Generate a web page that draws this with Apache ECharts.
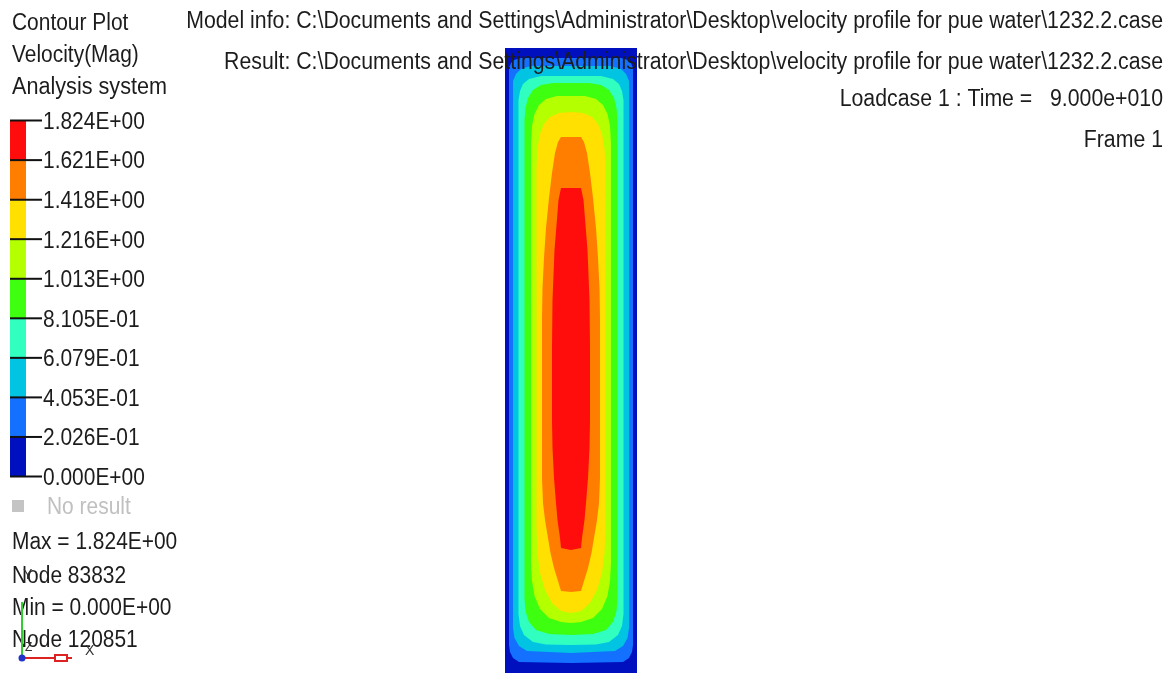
<!DOCTYPE html>
<html>
<head>
<meta charset="utf-8">
<script src="https://cdn.jsdelivr.net/npm/echarts@6/dist/echarts.min.js"></script>
<style>
html,body{margin:0;padding:0;background:#ffffff;}
#chart{width:1174px;height:673px;}
</style>
</head>
<body>
<div id="chart"></div>
<script>
// ---- legend / colour scale ----
const bandColors = ['#0010BE', '#1470FF', '#00C4E2', '#30FFC0', '#3EFF10', '#B4FF00', '#FFE000', '#FF7E00', '#FF0C0C'];
const legendValues = [0, 0.2026, 0.4053, 0.6079, 0.8105, 1.013, 1.216, 1.418, 1.621, 1.824];
const legendLabels = ['0.000E+00', '2.026E-01', '4.053E-01', '6.079E-01', '8.105E-01', '1.013E+00', '1.216E+00', '1.418E+00', '1.621E+00', '1.824E+00'];

// ---- contour regions (velocity >= level), right half outline [half-width mm, depth mm] ----
const outline0 = [[0, 0], [66, 0], [66, 625], [0, 625]];
const outline1 = [[0, 10], [50, 10], [57, 12], [60, 15], [62, 20], [62, 597], [61, 604], [58, 610], [52, 614], [0, 615]];
const outline2 = [[0, 18], [40, 18], [50, 21], [55, 26], [58, 33], [58, 580], [56.5, 590], [52, 598], [44, 603], [0, 605]];
const outline3 = [[0, 28], [30, 28], [42, 31], [48, 36], [51, 43], [52.5, 52], [52.5, 566], [51, 578], [47, 587], [38, 594], [25, 596.5], [0, 597]];
const outline4 = [[0, 35], [18, 35], [30, 37], [38, 42], [43, 50], [45.5, 60], [46.5, 72], [46.5, 550], [45.5, 563], [42, 574], [35, 582], [22, 586], [0, 587]];
const outline5 = [[0, 48], [14, 48], [25, 51], [32, 57], [36.5, 66], [39, 78], [40, 95], [40, 515], [39, 533], [36.5, 548], [31, 561], [22, 570], [10, 574], [0, 575]];
const outline6 = [[0, 64], [12, 65], [21, 69], [27, 76], [31, 86], [33.5, 100], [34.5, 120], [34.5, 480], [33.5, 505], [31, 525], [26, 542], [19, 555], [10, 563], [0, 565]];
const outline7 = [[0, 89], [10, 89], [13, 94], [16, 105], [19, 125], [22, 150], [25, 180], [27, 210], [28.5, 240], [29, 270], [29, 430], [28, 455], [26, 472], [23, 490], [20.5, 505], [17, 520], [13, 533], [10, 543], [0, 544]];
const outline8 = [[0, 140], [10, 140], [12.5, 152], [14.5, 177], [16.5, 202], [18.5, 252], [19, 300], [19, 372], [18.5, 400], [17, 430], [15, 455], [13.5, 472], [11, 490], [10, 500], [0, 502]];
const outlines = [outline0, outline1, outline2, outline3, outline4, outline5, outline6, outline7, outline8];

// ---- texts ----
const headerLines = [
  'Model info: C:\\Documents and Settings\\Administrator\\Desktop\\velocity profile for pue water\\1232.2.case',
  'Result: C:\\Documents and Settings\\Administrator\\Desktop\\velocity profile for pue water\\1232.2.case',
  'Loadcase 1 : Time =   9.000e+010',
  'Frame 1'
];
const titleLines = ['Contour Plot', 'Velocity(Mag)', 'Analysis system'];
const infoLines = ['Max = 1.824E+00', 'Node 83832', 'Min = 0.000E+00', 'Node 120851'];

const FONT = '23px "Liberation Sans", Arial, sans-serif';
const SX = 0.91;
const SX_HEAD = 0.925;
const TXT = '#1c1c1c';

const chart = echarts.init(document.getElementById('chart'), null, {renderer: 'canvas'});

function txt(text, x, y, align, fill, sx) {
  return {type: 'text', x: x, y: y, scaleX: sx || SX, z: 100,
    style: {text: text, font: FONT, fill: fill || TXT, align: align, verticalAlign: 'middle'}};
}

const headerY = [22, 63, 100, 141];
const titleY = [24, 56, 88];
const infoY = [543, 577, 609, 641];

const graphics = [];
headerLines.forEach((t, i) => graphics.push(txt(t, 1163, headerY[i], 'right', TXT, SX_HEAD)));
titleLines.forEach((t, i) => graphics.push(txt(t, 12, titleY[i], 'left', TXT, i === 2 ? 0.94 : SX)));
infoLines.forEach((t, i) => graphics.push(txt(t, 12, infoY[i], 'left')));
graphics.push({type: 'rect', z: 100, shape: {x: 12, y: 500, width: 12, height: 12}, style: {fill: '#c4c4c4'}});
graphics.push(txt('No result', 47, 508, 'left', '#c0c0c0'));
// axis triad
graphics.push({type: 'line', z: 101, shape: {x1: 22, y1: 602, x2: 22, y2: 658}, style: {stroke: '#33cc33', lineWidth: 2}});
graphics.push({type: 'line', z: 101, shape: {x1: 22, y1: 658, x2: 72, y2: 658}, style: {stroke: '#dd2222', lineWidth: 2}});
graphics.push({type: 'rect', z: 101, shape: {x: 55, y: 655, width: 12, height: 6}, style: {fill: '#ffffff', stroke: '#dd2222', lineWidth: 2}});
graphics.push({type: 'circle', z: 102, shape: {cx: 22, cy: 658, r: 3.5}, style: {fill: '#2233cc'}});
graphics.push({type: 'text', z: 102, x: 23, y: 575, style: {text: 'Y', font: '14px "Liberation Sans", sans-serif', fill: '#333', align: 'left', verticalAlign: 'middle'}});
graphics.push({type: 'text', z: 102, x: 25, y: 648, style: {text: 'Z', font: '12px "Liberation Sans", sans-serif', fill: '#333', align: 'left', verticalAlign: 'middle'}});
graphics.push({type: 'text', z: 102, x: 85, y: 651, style: {text: 'X', font: '14px "Liberation Sans", sans-serif', fill: '#333', align: 'left', verticalAlign: 'middle'}});

const option = {
  animation: false,
  backgroundColor: '#ffffff',
  grid: [
    {left: 505, top: 48, width: 132, height: 625, containLabel: false},
    {left: 10, top: 120.5, width: 16, height: 356, containLabel: false}
  ],
  xAxis: [
    {type: 'value', gridIndex: 0, min: -66, max: 66, show: false},
    {type: 'value', gridIndex: 1, min: 0, max: 1, show: false}
  ],
  yAxis: [
    {type: 'value', gridIndex: 0, min: 0, max: 625, inverse: true, show: false},
    {type: 'value', gridIndex: 1, min: 0, max: 1.824, show: false}
  ],
  series: [
    {
      type: 'custom', xAxisIndex: 0, yAxisIndex: 0, clip: false,
      data: outlines.map(o => [0, o[0][1]]),
      renderItem: function (params, api) {
        const o = outlines[params.dataIndex];
        const right = o.map(p => api.coord([p[0], p[1]]));
        const left = o.slice().reverse().map(p => api.coord([-p[0], p[1]]));
        return {type: 'polygon', z2: params.dataIndex,
          shape: {points: right.concat(left)},
          style: {fill: bandColors[params.dataIndex]}};
      }
    },
    {
      type: 'custom', xAxisIndex: 1, yAxisIndex: 1, clip: false,
      data: legendValues.map(v => [0, v]),
      renderItem: function (params, api) {
        const i = params.dataIndex;
        const p = api.coord([0, legendValues[i]]);
        const children = [];
        if (i < legendValues.length - 1) {
          const p2 = api.coord([1, legendValues[i + 1]]);
          children.push({type: 'rect', shape: {x: p[0], y: p2[1], width: p2[0] - p[0], height: p[1] - p2[1]},
            style: {fill: bandColors[i]}});
        }
        children.push({type: 'line', z2: 10, shape: {x1: p[0], y1: p[1], x2: p[0] + 32, y2: p[1]},
          style: {stroke: '#111111', lineWidth: 2}});
        children.push({type: 'text', z2: 10, x: p[0] + 33, y: p[1] + 2, scaleX: SX,
          style: {text: legendLabels[i], font: FONT, fill: TXT, align: 'left', verticalAlign: 'middle'}});
        return {type: 'group', children: children};
      }
    }
  ],
  graphic: graphics
};
chart.setOption(option);
</script>
</body>
</html>
